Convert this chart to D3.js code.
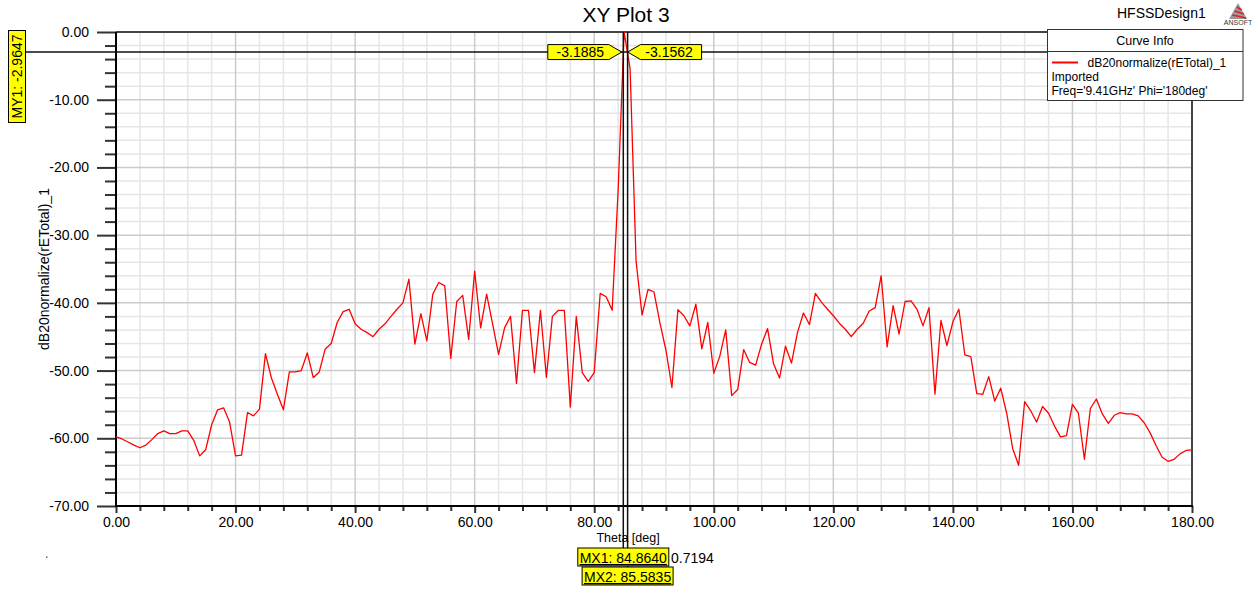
<!DOCTYPE html>
<html><head><meta charset="utf-8">
<script src="https://cdn.jsdelivr.net/npm/d3@7"></script>
<style>
body{margin:0;background:#fff}
svg{display:block;font-family:"Liberation Sans",Arial,sans-serif}
</style>
</head><body>
<svg id="c" width="1252" height="592"></svg>
<script>
// ---------------- data ----------------
const thetaStart = 0;      // deg, first sample
const thetaStep = 1;       // deg between samples
const dbValues = [
 -59.8,-60.1,-60.55,-61.0,-61.4,-61.0,-60.2,-59.3,-58.9,-59.3,
 -59.3,-58.9,-58.9,-60.3,-62.6,-61.7,-58.0,-55.8,-55.5,-57.6,
 -62.6,-62.5,-56.2,-56.7,-55.7,-47.5,-51.1,-53.5,-55.8,-50.2,
 -50.2,-50.0,-47.4,-51.05,-50.2,-46.8,-46.0,-42.9,-41.3,-40.95,
 -43.1,-43.9,-44.4,-45.0,-43.9,-43.1,-42.0,-40.95,-40.0,-36.5,
 -46.1,-41.6,-45.6,-38.7,-37.0,-37.5,-48.2,-39.8,-38.9,-45.4,
 -35.3,-43.7,-38.7,-43.1,-47.6,-43.7,-42.0,-51.9,-41.1,-41.1,
 -50.3,-41.1,-51.0,-42.0,-41.1,-41.1,-55.4,-42.0,-50.3,-51.6,
 -50.3,-38.6,-39.1,-41.1,-23.4,0.0,-5.4,-33.8,-41.8,-38.0,
 -38.4,-43.0,-47.0,-52.5,-41.0,-41.9,-43.4,-40.2,-46.8,-42.9,
 -50.4,-47.9,-44.0,-53.7,-52.8,-46.9,-48.8,-49.2,-46.1,-43.8,
 -49.0,-51.1,-46.4,-48.9,-44.4,-41.5,-43.2,-38.6,-39.9,-40.9,
 -41.9,-43.0,-43.9,-45.0,-43.9,-43.0,-41.2,-40.7,-36.0,-46.5,
 -40.4,-44.6,-39.8,-39.7,-40.95,-43.4,-40.7,-53.5,-42.6,-46.3,
 -42.8,-40.95,-47.7,-47.95,-53.4,-53.5,-50.9,-54.5,-52.6,-56.3,
 -61.5,-64.0,-54.6,-55.9,-57.6,-55.3,-56.3,-58.2,-59.8,-59.6,
 -55.0,-56.3,-63.1,-55.6,-54.2,-56.4,-57.8,-56.6,-56.2,-56.4,
 -56.4,-56.7,-57.7,-59.2,-61.1,-62.8,-63.4,-63.1,-62.3,-61.8,
 -61.7
];
const xMajorTicks = [0,20,40,60,80,100,120,140,160,180];
const xMinorStep = 4;
const yMajorTicks = [0,-10,-20,-30,-40,-50,-60,-70];
const yMinorStep = 2;
const markersX = [
  {name:"MX1", theta:84.8640, value:-3.1885},
  {name:"MX2", theta:85.5835, value:-3.1562}
];
const markerY = {name:"MY1", value:-2.9647};
const markerDelta = 0.7194;
const titleText = "XY Plot 3";
const designText = "HFSSDesign1";
const xLabel = "Theta [deg]";
const yLabel = "dB20normalize(rETotal)_1";
const legendTitle = "Curve Info";
const legendLines = ["dB20normalize(rETotal)_1","Imported","Freq='9.41GHz' Phi='180deg'"];

// ---------------- layout ----------------
const L=116, R=1192, T=32, B=506;
const x = d3.scaleLinear().domain([0,180]).range([L,R]);
const y = d3.scaleLinear().domain([-70,0]).range([B,T]);
const svg = d3.select("#c");
const fmt = d => d.toFixed(2);

const points = dbValues.map((v,i)=>({t:thetaStart+i*thetaStep, v}));

// grid
const g = svg.append("g");
const xMinor = d3.range(0,180+1e-9,xMinorStep).filter(t=>!xMajorTicks.includes(t));
const yMinor = d3.range(-70,0+1e-9,yMinorStep).filter(v=>!yMajorTicks.includes(v));
g.selectAll(".xm").data(xMinor).join("line")
  .attr("x1",d=>x(d)).attr("x2",d=>x(d)).attr("y1",T).attr("y2",B)
  .attr("stroke","#e6e6e6").attr("stroke-width",1.5);
g.selectAll(".ym").data(yMinor).join("line")
  .attr("y1",d=>y(d)).attr("y2",d=>y(d)).attr("x1",L).attr("x2",R)
  .attr("stroke","#e6e6e6").attr("stroke-width",1.5);
g.selectAll(".xM").data(xMajorTicks).join("line")
  .attr("x1",d=>x(d)).attr("x2",d=>x(d)).attr("y1",T).attr("y2",B)
  .attr("stroke","#cbcbcb").attr("stroke-width",1.5);
g.selectAll(".yM").data(yMajorTicks).join("line")
  .attr("y1",d=>y(d)).attr("y2",d=>y(d)).attr("x1",L).attr("x2",R)
  .attr("stroke","#cbcbcb").attr("stroke-width",1.5);

// axes ticks
const yAxisMinor = d3.axisLeft(y).tickValues(yMinor).tickSize(11).tickFormat("");
const yAxisMajor = d3.axisLeft(y).tickValues(yMajorTicks).tickSize(19).tickPadding(8).tickFormat(fmt);
const xAxisMinor = d3.axisBottom(x).tickValues(xMinor).tickSize(5).tickFormat("");
const xAxisMajor = d3.axisBottom(x).tickValues(xMajorTicks).tickSize(7).tickPadding(4).tickFormat(fmt);
function styleAxis(sel){
  sel.select(".domain").remove();
  sel.selectAll("line").attr("stroke","#333").attr("stroke-width",2);
  sel.selectAll("text").attr("font-size",14).attr("fill","#000")
    .attr("font-family",'"Liberation Sans",Arial,sans-serif');
}
svg.append("g").attr("transform",`translate(${L},0)`).call(yAxisMinor).call(styleAxis);
svg.append("g").attr("transform",`translate(${L},0)`).call(yAxisMajor).call(styleAxis);
svg.append("g").attr("transform",`translate(0,${B})`).call(xAxisMinor).call(styleAxis);
svg.append("g").attr("transform",`translate(0,${B})`).call(xAxisMajor).call(styleAxis);

// frame
svg.append("line").attr("x1",L).attr("x2",R).attr("y1",T).attr("y2",T).attr("stroke","#444").attr("stroke-width",2);
svg.append("line").attr("x1",R).attr("x2",R).attr("y1",T).attr("y2",B).attr("stroke","#444").attr("stroke-width",2);
svg.append("line").attr("x1",L).attr("x2",L).attr("y1",T).attr("y2",B+1).attr("stroke","#000").attr("stroke-width",2);
svg.append("line").attr("x1",L-1).attr("x2",R+1).attr("y1",B).attr("y2",B).attr("stroke","#000").attr("stroke-width",2);

// curve
svg.append("defs").append("clipPath").attr("id","clip")
  .append("rect").attr("x",L).attr("y",T).attr("width",R-L).attr("height",B-T);
const line = d3.line().x(d=>x(d.t)).y(d=>y(d.v));
svg.append("path").datum(points).attr("d",line).attr("clip-path","url(#clip)")
  .attr("fill","none").attr("stroke","#ff0000").attr("stroke-width",1.3).attr("stroke-linejoin","round");

// markers lines
const my = y(markerY.value);
svg.append("line").attr("x1",26).attr("x2",R).attr("y1",my).attr("y2",my)
  .attr("stroke","#111").attr("stroke-width",1.5);
const boxTop = [548, 567];
markersX.forEach((m,i)=>{
  svg.append("line").attr("x1",x(m.theta)).attr("x2",x(m.theta)).attr("y1",T).attr("y2",boxTop[i])
    .attr("stroke","#111").attr("stroke-width",1.5);
});

// texts
svg.append("text").attr("x",626).attr("y",22).attr("text-anchor","middle")
  .attr("font-size",21).text(titleText);
svg.append("text").attr("x",1117).attr("y",18).attr("font-size",14).text(designText);
svg.append("text").attr("x",628).attr("y",542).attr("text-anchor","middle")
  .attr("font-size",12.5).text(xLabel);
svg.append("text").attr("transform","translate(49,269) rotate(-90)").attr("text-anchor","middle")
  .attr("font-size",14).text(yLabel);

// Ansoft logo
const lg = svg.append("g").attr("transform","translate(1238,3)");
lg.append("path").attr("d","M0,0 L9,16 L-9,16 Z").attr("fill","#9a9a9a");
[4,8,12].forEach(k=>{
  lg.append("path").attr("d",`M${-k*0.56+1},${k} L${k*0.56-0.5+2},${k+3}`).attr("stroke","#d22").attr("stroke-width",1.6);
});
lg.append("text").attr("x",0).attr("y",22).attr("text-anchor","middle").attr("font-size",7).attr("fill","#333").text("ANSOFT");

// legend
const leg = svg.append("g");
leg.append("rect").attr("x",1047.5).attr("y",29.5).attr("width",195.5).attr("height",71)
  .attr("fill","#fff").attr("stroke","#333").attr("stroke-width",1);
leg.append("line").attr("x1",1047.5).attr("x2",1243).attr("y1",51.5).attr("y2",51.5).attr("stroke","#333");
leg.append("text").attr("x",1145).attr("y",45).attr("text-anchor","middle").attr("font-size",12.5).text(legendTitle);
leg.append("line").attr("x1",1052).attr("x2",1078).attr("y1",62.5).attr("y2",62.5).attr("stroke","#ff0000").attr("stroke-width",2);
leg.append("text").attr("x",1087.5).attr("y",66.5).attr("font-size",12).text(legendLines[0]);
leg.append("text").attr("x",1051.5).attr("y",81).attr("font-size",12).text(legendLines[1]);
leg.append("text").attr("x",1051.5).attr("y",95).attr("font-size",12).text(legendLines[2]);

// marker value flags on MY1 line
const flagH = 15, rectW = 61, arrow = 13;
markersX.forEach((m,i)=>{
  const mx = x(m.theta);
  let pts;
  let tx;
  if(i===0){
    const tip = mx-1.5, r = tip-arrow, l = r-rectW;
    pts=[[l,my-flagH/2],[r,my-flagH/2],[tip,my],[r,my+flagH/2],[l,my+flagH/2]];
    tx=(l+r)/2+2;
  } else {
    const tip = mx, l = tip+arrow, r = l+rectW;
    pts=[[tip,my],[l,my-flagH/2],[r,my-flagH/2],[r,my+flagH/2],[l,my+flagH/2]];
    tx=(l+r)/2-2;
  }
  svg.append("polygon").attr("points",pts.map(p=>p.join(",")).join(" "))
    .attr("fill","#ffff00").attr("stroke","#000").attr("stroke-width",1);
  svg.append("text").attr("x",tx).attr("y",my+5).attr("text-anchor","middle").attr("font-size",14)
    .text(m.value.toFixed(4));
});

// MY1 box
svg.append("rect").attr("x",8.5).attr("y",30.5).attr("width",17).attr("height",92)
  .attr("fill","#ffff00").attr("stroke","#000").attr("stroke-width",1);
svg.append("text").attr("transform","translate(22,76.5) rotate(-90)").attr("text-anchor","middle")
  .attr("font-size",14).text(`${markerY.name}: ${markerY.value.toFixed(4)}`);

// MX boxes
const boxW = 91, boxH = 18;
markersX.forEach((m,i)=>{
  const cx = x(m.theta);
  svg.append("rect").attr("x",cx-boxW/2).attr("y",boxTop[i]).attr("width",boxW).attr("height",boxH)
    .attr("fill","#ffff00").attr("stroke","#000").attr("stroke-width",1);
  svg.append("text").attr("x",cx).attr("y",boxTop[i]+15).attr("text-anchor","middle")
    .attr("font-size",14).attr("text-decoration","underline")
    .text(`${m.name}: ${m.theta.toFixed(4)}`);
});
svg.append("text").attr("x",671).attr("y",563).attr("font-size",14).text(markerDelta.toFixed(4));

// tiny dot artifact
svg.append("rect").attr("x",46).attr("y",556.5).attr("width",1.5).attr("height",1.5).attr("fill","#666");
</script>
</body></html>
